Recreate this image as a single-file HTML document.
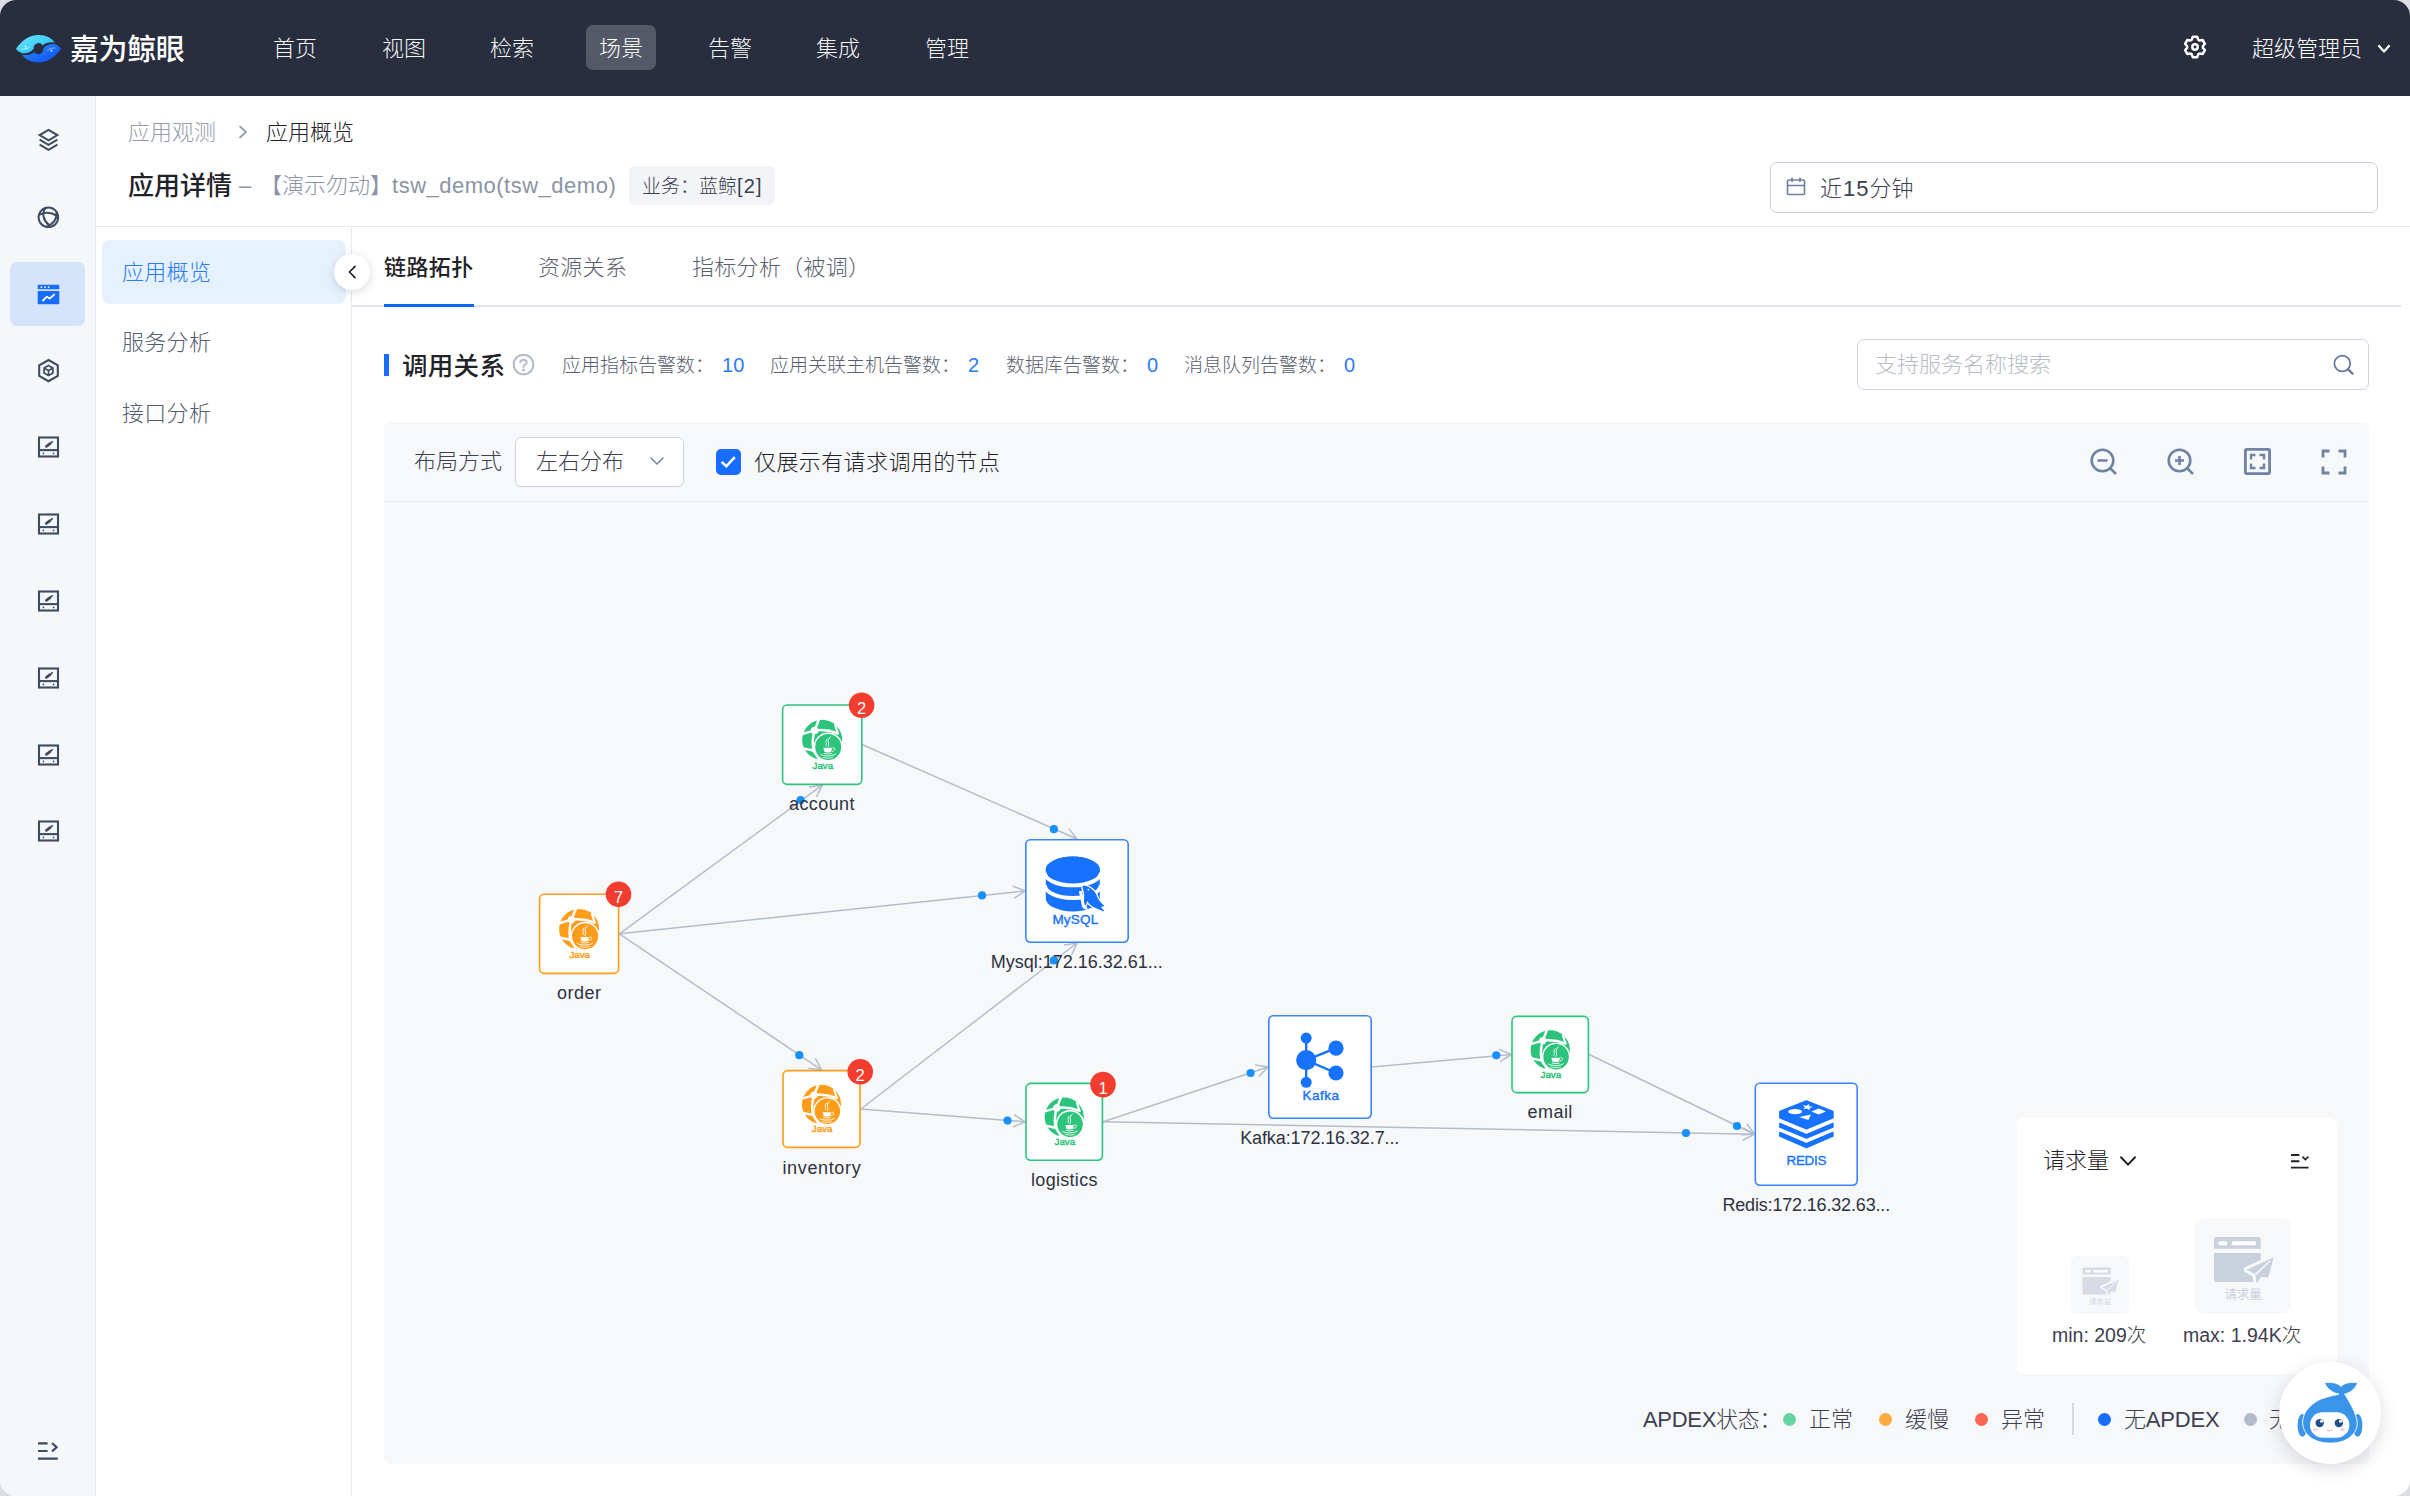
<!DOCTYPE html>
<html lang="zh-CN">
<head>
<meta charset="utf-8">
<title>应用概览</title>
<style>
*{box-sizing:border-box;margin:0;padding:0}
html,body{width:2410px;height:1496px;overflow:hidden;background:#dcdde2}
body{font-family:"Liberation Sans","Noto Sans CJK SC",sans-serif;color:#1f2329;font-size:22px;line-height:1;font-weight:300}
#app{position:relative;width:2410px;height:1496px;border-radius:16px;overflow:hidden;background:#fff}
.abs{position:absolute}
.t{position:absolute;white-space:nowrap;line-height:1}
.dot{top:990.5px;width:13px;height:13px;border-radius:50%}
/* top nav */
#nav{position:absolute;left:0;top:0;width:2410px;height:96px;background:#292e3e}
#nav .item{position:absolute;top:25px;height:45px;width:70px;border-radius:7px;color:#f3f4f6;font-size:22px;line-height:47px;text-align:center}
#nav .item.on{background:#545967;color:#fff}
/* left icon bar */
#side1{position:absolute;left:0;top:96px;width:96px;height:1400px;background:#f6f7f9;border-right:1px solid #e6e9ee}
#side1 .ic{position:absolute;left:34px;width:28px;height:28px}
#side1 .act{position:absolute;left:10px;top:166px;width:75px;height:64px;border-radius:7px;background:#d5e4fb}
/* header */
#hdr{position:absolute;left:96px;top:96px;width:2314px;height:131px;background:#fff;border-bottom:1px solid #e6e9ee}
/* second sidebar */
#side2{position:absolute;left:96px;top:227px;width:256px;height:1269px;background:#fff;border-right:1px solid #e6e9ee}
#side2 .mi{position:absolute;left:6px;width:244px;height:64px;border-radius:8px;font-size:22px;line-height:66px;padding-left:20px;color:#555c70;letter-spacing:0.3px}
#side2 .mi.on{background:#e5f2fe;color:#2b7bf5}
/* main */
#main{position:absolute;left:0;top:0;width:0;height:0}
</style>
</head>
<body>
<div id="app">

<!-- ================= TOP NAV ================= -->
<div id="nav">
  <div class="item" style="left:260px">首页</div>
  <div class="item" style="left:369px">视图</div>
  <div class="item" style="left:477px">检索</div>
  <div class="item on" style="left:586px">场景</div>
  <div class="item" style="left:695px">告警</div>
  <div class="item" style="left:803px">集成</div>
  <div class="item" style="left:912px">管理</div>
  
  <svg class="abs" style="left:15px;top:34px" width="48" height="30" viewBox="0 0 48 30">
    <defs>
      <linearGradient id="lgA" x1="0" y1="0" x2="1" y2="1"><stop offset="0" stop-color="#6fe9ff"/><stop offset="1" stop-color="#19b6f5"/></linearGradient>
      <linearGradient id="lgB" x1="0" y1="0" x2="1" y2="1"><stop offset="0" stop-color="#2e90ff"/><stop offset="1" stop-color="#0a4cf0"/></linearGradient>
    </defs>
    <path d="M1 15 C6 7 14 1 24 1 C31 1 36.5 4 40 8.6 C35 7.8 30.5 8.6 27.6 11.4 A4.8 4.8 0 0 0 18.8 14.6 C16.6 18.2 12 19.8 7 19.2 C4.5 18.2 2.5 16.8 1 15 Z" fill="url(#lgA)"/>
    <path d="M46 14.4 C41 22.4 33 28.4 23 28.4 C16 28.4 10.5 25.4 7 20.8 C12 21.6 16.5 20.8 19.4 18 A4.8 4.8 0 0 0 28.2 14.8 C30.4 11.2 35 9.6 40 10.2 C42.5 11.2 44.5 12.6 46 14.4 Z" fill="url(#lgB)"/>
    <path d="M5 15.4 C9 16.6 13 15.4 15.6 12.6 C12 14 8 14.6 5 15.4Z" fill="#c9f6ff" opacity=".7"/>
    <path d="M42 14 C38 12.8 34 14 31.4 16.8 C35 15.4 39 14.8 42 14Z" fill="#9cc4ff" opacity=".6"/>
    <circle cx="10.6" cy="12.6" r="0.9" fill="#fff"/><circle cx="36.4" cy="16.8" r="0.9" fill="#fff"/>
  </svg>
  <div class="t" style="left:70px;top:36px;font-size:29px;font-weight:500;color:#fff;letter-spacing:-0.4px">嘉为鲸眼</div>
  <svg class="abs" style="left:2183px;top:35.4px" width="24" height="24" viewBox="0 0 24 24" fill="none" stroke="#fff" stroke-width="2.5" stroke-linejoin="round">
    <path d="M8.66 4.84 L9.84 1.83 L14.16 1.83 L15.34 4.84 L16.53 5.53 L19.73 5.04 L21.89 8.79 L19.87 11.31 L19.87 12.69 L21.89 15.21 L19.73 18.96 L16.53 18.47 L15.34 19.16 L14.16 22.17 L9.84 22.17 L8.66 19.16 L7.47 18.47 L4.27 18.96 L2.11 15.21 L4.13 12.69 L4.13 11.31 L2.11 8.79 L4.27 5.04 L7.47 5.53 Z"/>
    <circle cx="12" cy="12" r="2.7"/>
  </svg>
  <div class="t" style="left:2252px;top:38px;font-size:22px;color:#fff">超级管理员</div>
  <svg class="abs" style="left:2377px;top:43px" width="14" height="12" viewBox="0 0 14 12" fill="none" stroke="#fff" stroke-width="2.2" stroke-linecap="round" stroke-linejoin="round"><path d="M2 3 L7 8.5 L12 3"/></svg>

</div>

<!-- ================= LEFT ICON BAR ================= -->
<div id="side1">
  <div class="act"></div>
  
  <svg class="abs" style="left:36px;top:31px" width="25" height="26" viewBox="0 0 25 26" fill="none" stroke="#3d4b63" stroke-width="2" stroke-linejoin="miter"><path d="M12.5 2.9 L21.4 8.1 L12.5 13.3 L3.6 8.1 Z"/><path d="M3.6 12.7 L12.5 17.9 L21.4 12.7"/><path d="M3.6 17.6 L12.5 22.8 L21.4 17.6"/></svg>
  <svg class="abs" style="left:36px;top:109px" width="25" height="25" viewBox="0 0 25 25" fill="none" stroke="#3d4b63" stroke-width="2"><circle cx="12.4" cy="12.3" r="9.8"/><path d="M9 3.6 C5.6 9 7.6 16 13.4 20.4 M3 10 C8 6.6 15 7 20.4 10.6 M20.4 7.2 C21.4 13 18 19 11 21.4"/></svg>
  <svg class="abs" style="left:37px;top:188px" width="23" height="21" viewBox="0 0 23 21"><path d="M1.5 0.8 H21.5 Q22.3 0.8 22.3 1.6 V5.2 H0.7 V1.6 Q0.7 0.8 1.5 0.8Z M0.7 7 H22.3 V19.4 Q22.3 20.2 21.5 20.2 H1.5 Q0.7 20.2 0.7 19.4Z" fill="#186cff"/><circle cx="4.4" cy="3.1" r="0.9" fill="#fff"/><circle cx="8" cy="3.1" r="0.9" fill="#fff"/><circle cx="11.6" cy="3.1" r="0.9" fill="#fff"/><path d="M6 16.5 L10 12.6 L12.6 14.6 L17.2 10.6" fill="none" stroke="#fff" stroke-width="1.8" stroke-linecap="round" stroke-linejoin="round"/></svg>
  <svg class="abs" style="left:36px;top:261px" width="25" height="27" viewBox="0 0 25 27" fill="none" stroke="#3d4b63" stroke-width="2.1" stroke-linejoin="miter"><path d="M12.5 3 L21.8 8.3 V18.9 L12.5 24.2 L3.2 18.9 V8.3 Z"/><path d="M12.5 8.6 L16.9 11.1 V16.1 L12.5 18.6 L8.1 16.1 V11.1 Z" stroke-width="1.7"/><path d="M8.3 11.2 L12.5 13.6 L16.7 11.2 M12.5 13.6 V18.4" stroke-width="1.7"/></svg>
  <svg class="abs" style="left:37px;top:340.3px" width="23" height="22" viewBox="0 0 23 22" fill="none" stroke="#3d4b63" stroke-width="2.1"><rect x="2" y="1.5" width="19" height="19"/><path d="M2 14.1 H21"/><path d="M9.4 10.4 L13 7.6" stroke-width="2.7" stroke-linecap="round"/><path d="M13 7.6 l2.4 -1.9" stroke-width="1.5" stroke-linecap="round"/><circle cx="6.4" cy="17.4" r="0.85" fill="#3d4b63" stroke="none"/><circle cx="16.6" cy="17.4" r="0.85" fill="#3d4b63" stroke="none"/></svg>
  <svg class="abs" style="left:37px;top:417.2px" width="23" height="22" viewBox="0 0 23 22" fill="none" stroke="#3d4b63" stroke-width="2.1"><rect x="2" y="1.5" width="19" height="19"/><path d="M2 14.1 H21"/><path d="M9.4 10.4 L13 7.6" stroke-width="2.7" stroke-linecap="round"/><path d="M13 7.6 l2.4 -1.9" stroke-width="1.5" stroke-linecap="round"/><circle cx="6.4" cy="17.4" r="0.85" fill="#3d4b63" stroke="none"/><circle cx="16.6" cy="17.4" r="0.85" fill="#3d4b63" stroke="none"/></svg>
  <svg class="abs" style="left:37px;top:494.0px" width="23" height="22" viewBox="0 0 23 22" fill="none" stroke="#3d4b63" stroke-width="2.1"><rect x="2" y="1.5" width="19" height="19"/><path d="M2 14.1 H21"/><path d="M9.4 10.4 L13 7.6" stroke-width="2.7" stroke-linecap="round"/><path d="M13 7.6 l2.4 -1.9" stroke-width="1.5" stroke-linecap="round"/><circle cx="6.4" cy="17.4" r="0.85" fill="#3d4b63" stroke="none"/><circle cx="16.6" cy="17.4" r="0.85" fill="#3d4b63" stroke="none"/></svg>
  <svg class="abs" style="left:37px;top:571.0px" width="23" height="22" viewBox="0 0 23 22" fill="none" stroke="#3d4b63" stroke-width="2.1"><rect x="2" y="1.5" width="19" height="19"/><path d="M2 14.1 H21"/><path d="M9.4 10.4 L13 7.6" stroke-width="2.7" stroke-linecap="round"/><path d="M13 7.6 l2.4 -1.9" stroke-width="1.5" stroke-linecap="round"/><circle cx="6.4" cy="17.4" r="0.85" fill="#3d4b63" stroke="none"/><circle cx="16.6" cy="17.4" r="0.85" fill="#3d4b63" stroke="none"/></svg>
  <svg class="abs" style="left:37px;top:647.6px" width="23" height="22" viewBox="0 0 23 22" fill="none" stroke="#3d4b63" stroke-width="2.1"><rect x="2" y="1.5" width="19" height="19"/><path d="M2 14.1 H21"/><path d="M9.4 10.4 L13 7.6" stroke-width="2.7" stroke-linecap="round"/><path d="M13 7.6 l2.4 -1.9" stroke-width="1.5" stroke-linecap="round"/><circle cx="6.4" cy="17.4" r="0.85" fill="#3d4b63" stroke="none"/><circle cx="16.6" cy="17.4" r="0.85" fill="#3d4b63" stroke="none"/></svg>
  <svg class="abs" style="left:37px;top:724.3px" width="23" height="22" viewBox="0 0 23 22" fill="none" stroke="#3d4b63" stroke-width="2.1"><rect x="2" y="1.5" width="19" height="19"/><path d="M2 14.1 H21"/><path d="M9.4 10.4 L13 7.6" stroke-width="2.7" stroke-linecap="round"/><path d="M13 7.6 l2.4 -1.9" stroke-width="1.5" stroke-linecap="round"/><circle cx="6.4" cy="17.4" r="0.85" fill="#3d4b63" stroke="none"/><circle cx="16.6" cy="17.4" r="0.85" fill="#3d4b63" stroke="none"/></svg>
  <svg class="abs" style="left:37px;top:1345px" width="23" height="20" viewBox="0 0 23 20" fill="none" stroke="#3d4b63" stroke-width="2.2"><path d="M1 2.4 H10.6 M1 10 H10.6 M1 17.6 H20.8"/><path d="M15 2 L19.6 6.2 L15 10.4" stroke-linejoin="miter"/></svg>

</div>

<!-- ================= HEADER ================= -->
<div id="hdr">
  
  <div class="t" style="left:32px;top:26px;font-size:22px;color:#959cae">应用观测</div>
  <svg class="abs" style="left:141px;top:28px" width="12" height="16" viewBox="0 0 12 16" fill="none" stroke="#959cae" stroke-width="1.8" stroke-linecap="round" stroke-linejoin="round"><path d="M3 2.5 L9 8 L3 13.5"/></svg>
  <div class="t" style="left:170px;top:26px;font-size:22px;color:#1f2329">应用概览</div>
  <div class="t" style="left:32px;top:77px;font-size:26px;font-weight:500;color:#1f2329">应用详情</div>
  <div class="t" style="left:143px;top:79px;font-size:22px;color:#8b93a6">–</div>
  <div class="t" style="left:164px;top:79px;font-size:22px;color:#8b93a6">【演示勿动】<span style="letter-spacing:0.5px">tsw_demo(tsw_demo)</span></div>
  <div class="abs" style="left:533px;top:70px;width:146px;height:39px;border-radius:5px;background:#f2f4f8"></div>
  <div class="t" style="left:546px;top:80px;font-size:19px;color:#3c4050">业务：蓝鲸<span style="letter-spacing:1.2px;font-size:20px">[2]</span></div>
  <div class="abs" style="left:1674px;top:66px;width:608px;height:51px;border:1px solid #c6ccd9;border-radius:7px;background:#fff"></div>
  <svg class="abs" style="left:1690px;top:81px" width="20" height="19" viewBox="0 0 20 19" fill="none" stroke="#6f7f9c" stroke-width="1.6"><rect x="1.5" y="3" width="17" height="14.5" rx="1"/><path d="M1.5 8.5 H18.5 M6 0.5 V5 M14 0.5 V5"/></svg>
  <div class="t" style="left:1724px;top:82px;font-size:22px;color:#3c4050">近<span style="letter-spacing:1px;margin-left:1px">15</span>分钟</div>

</div>

<!-- ================= SECOND SIDEBAR ================= -->
<div id="side2">
  <div class="mi on" style="top:13px">应用概览</div>
  <div class="mi" style="top:83px">服务分析</div>
  <div class="mi" style="top:154px">接口分析</div>
</div>

<!-- ================= MAIN ================= -->
<div id="main">
  
  <!-- collapse button -->
  <div class="abs" style="left:334px;top:254px;width:36px;height:36px;border-radius:50%;background:#fff;box-shadow:0 2px 10px rgba(40,50,80,.18)"></div>
  <svg class="abs" style="left:346px;top:263px" width="12" height="18" viewBox="0 0 12 18" fill="none" stroke="#1f2329" stroke-width="1.7" stroke-linecap="round" stroke-linejoin="round"><path d="M9 3.4 L3.4 9 L9 14.6"/></svg>
  <!-- tabs -->
  <div class="abs" style="left:352px;top:305px;width:2049px;height:2px;background:#e0e3e9"></div>
  <div class="t" style="left:384px;top:257px;font-size:22px;font-weight:500;color:#1f2329;letter-spacing:0.4px">链路拓扑</div>
  <div class="abs" style="left:384px;top:303.8px;width:90px;height:3.2px;background:#0a66ff"></div>
  <div class="t" style="left:538px;top:257px;font-size:22px;color:#5b6071;letter-spacing:0.3px">资源关系</div>
  <div class="t" style="left:692px;top:257px;font-size:22px;color:#5b6071;letter-spacing:0.3px">指标分析（被调）</div>
  <!-- section title -->
  <div class="abs" style="left:384px;top:354px;width:5px;height:22px;background:#186cff"></div>
  <div class="t" style="left:402px;top:353.5px;font-size:25.5px;font-weight:500;color:#1f2329;letter-spacing:0.3px">调用关系</div>
  <svg class="abs" style="left:512px;top:353px" width="23" height="23" viewBox="0 0 23 23" fill="none" stroke="#b4bccb" stroke-width="2"><circle cx="11.5" cy="11.5" r="9.8"/><path d="M8.3 9.2 C8.3 6 14.7 6 14.7 9.4 C14.7 11.6 11.5 11.6 11.5 14" stroke-linecap="round"/><circle cx="11.5" cy="17" r="0.6" fill="#b4bccb"/></svg>
  <div class="t" style="left:562px;top:355px;font-size:19px;color:#5b6071">应用指标告警数：<span style="color:#2b7bf5;margin-left:8px;font-size:20px">10</span></div>
  <div class="t" style="left:770px;top:355px;font-size:19px;color:#5b6071">应用关联主机告警数：<span style="color:#2b7bf5;margin-left:8px;font-size:20px">2</span></div>
  <div class="t" style="left:1006px;top:355px;font-size:19px;color:#5b6071">数据库告警数：<span style="color:#2b7bf5;margin-left:8px;font-size:20px">0</span></div>
  <div class="t" style="left:1184px;top:355px;font-size:19px;color:#5b6071">消息队列告警数：<span style="color:#2b7bf5;margin-left:8px;font-size:20px">0</span></div>
  <!-- search -->
  <div class="abs" style="left:1857px;top:339px;width:512px;height:51px;border:1px solid #cdd4e2;border-radius:7px;background:#fff"></div>
  <div class="t" style="left:1875px;top:354px;font-size:22px;color:#b7bcc8">支持服务名称搜索</div>
  <svg class="abs" style="left:2331px;top:352px" width="25" height="25" viewBox="0 0 25 25" fill="none" stroke="#62779b" stroke-width="1.7" stroke-linecap="round"><circle cx="11.3" cy="11.5" r="7.9"/><path d="M17.2 17.4 L21.6 21.8" stroke-width="2.2"/></svg>
  <!-- graph panel -->
  <div class="abs" id="gp" style="left:384px;top:422px;width:1985px;height:1042px;border-radius:6px;background:#f7f8fa;overflow:hidden">
    <div class="abs" style="left:0;top:79px;width:1985px;height:1px;background:#e6e9ee"></div>
    <!--G0--><div class="abs" style="left:-384px;top:-422px;width:2410px;height:1496px"><svg class="abs" style="left:0;top:0" width="2410" height="1496" viewBox="0 0 2410 1496"><g fill="none" stroke="#b3bdcb" stroke-width="1.5" stroke-linecap="round" stroke-linejoin="round"><path d="M619.4 933.8 L822.2 785.2"/><path d="M809.7 787.0 L822.2 785.2 L816.7 796.5"/><path d="M619.4 933.8 L1025.0 891.0"/><path d="M1013.3 886.3 L1025.0 891.0 L1014.6 898.1"/><path d="M862.6 744.7 L1077.0 839.0"/><path d="M1069.2 829.1 L1077.0 839.0 L1064.4 839.9"/><path d="M619.4 933.8 L821.5 1069.8"/><path d="M815.6 1058.7 L821.5 1069.8 L809.0 1068.5"/><path d="M860.8 1109.0 L1077.0 943.0"/><path d="M1064.6 945.1 L1077.0 943.0 L1071.8 954.5"/><path d="M860.8 1109.0 L1025.2 1121.8"/><path d="M1014.6 1115.0 L1025.2 1121.8 L1013.6 1126.8"/><path d="M1103.2 1121.8 L1268.0 1067.0"/><path d="M1255.6 1064.9 L1268.0 1067.0 L1259.3 1076.1"/><path d="M1103.2 1121.8 L1754.5 1134.2"/><path d="M1743.5 1128.1 L1754.5 1134.2 L1743.3 1140.0"/><path d="M1372.0 1067.0 L1511.2 1054.5"/><path d="M1499.6 1049.6 L1511.2 1054.5 L1500.6 1061.4"/><path d="M1589.2 1054.5 L1754.5 1134.2"/><path d="M1747.1 1124.1 L1754.5 1134.2 L1741.9 1134.7"/></g><g fill="#1890ff"><circle cx="800.6" cy="800.1" r="4.1"/><circle cx="982" cy="895.4" r="4.1"/><circle cx="1053.9" cy="829.2" r="4.1"/><circle cx="799.3" cy="1055.2" r="4.1"/><circle cx="1053.9" cy="960.4" r="4.1"/><circle cx="1007.5" cy="1120.6" r="4.1"/><circle cx="1250.6" cy="1073" r="4.1"/><circle cx="1686" cy="1133" r="4.1"/><circle cx="1496.3" cy="1055.3" r="4.1"/><circle cx="1737" cy="1126" r="4.1"/></g><rect x="539.6" y="894.2" width="79.0" height="79.2" rx="4.6" fill="#fff" stroke="#ff9c1a" stroke-width="1.6"/><rect x="782.6" y="705.0" width="79.2" height="79.4" rx="4.6" fill="#fff" stroke="#2bc47a" stroke-width="1.6"/><rect x="783.0" y="1070.6" width="77.0" height="76.8" rx="4.6" fill="#fff" stroke="#ff9c1a" stroke-width="1.6"/><rect x="1026.0" y="1083.4" width="76.4" height="76.8" rx="4.6" fill="#fff" stroke="#2bc47a" stroke-width="1.6"/><rect x="1512.0" y="1016.4" width="76.4" height="76.2" rx="4.6" fill="#fff" stroke="#2bc47a" stroke-width="1.6"/><rect x="1025.8" y="839.8" width="102.4" height="102.4" rx="4.6" fill="#fff" stroke="#3a84ff" stroke-width="1.6"/><rect x="1268.8" y="1015.8" width="102.4" height="102.4" rx="4.6" fill="#fff" stroke="#3a84ff" stroke-width="1.6"/><rect x="1755.3" y="1083.3" width="101.9" height="101.9" rx="4.6" fill="#fff" stroke="#3a84ff" stroke-width="1.6"/><g transform="translate(579.1,929.0) scale(1.0)">
<circle cx="0" cy="0" r="20" fill="#ff9c1a"/>
<g fill="none" stroke="#fff" stroke-width="2.5" stroke-linecap="round">
<path d="M-7.6 -9.4 L-3.4 -20"/>
<path d="M-7.6 -9.4 L-20 -5.8"/>
<path d="M-7.6 -9.4 C-9.6 -3 -10 4 -8.8 10.8"/>
<path d="M-8.8 10.8 L-19 8.8"/>
<path d="M-8.8 10.8 L-2.6 20"/>
<path d="M-7.6 -9.4 C0 -10.4 8 -9.4 15.6 -6.4"/>
<path d="M15.6 -6.4 L13 -14.6" stroke-width="2.2"/>
</g>
<circle cx="-7.6" cy="-9.4" r="3.7" fill="#fff"/>
<circle cx="6" cy="7.2" r="14.5" fill="#fff"/>
<circle cx="6" cy="7.2" r="13" fill="#ff9c1a"/>
<g fill="none" stroke="#fff" stroke-linecap="round" stroke-width="1">
<path d="M8.4 -3 C3 1 8.6 3 5.8 6.6"/>
<path d="M5 -1 C2.2 1.6 5.4 3 3.8 5.6" stroke-width="0.9"/>
<path d="M10.8 8 C13.8 7.8 13.2 11 10.2 11.4" stroke-width="0.9"/>
<path d="M-1.6 14.6 C0.4 16.8 11 16.8 13.4 14.2" stroke-width="1"/>
<path d="M1 17.6 C3.6 18.6 8.6 18.6 10.4 17.6" stroke-width="0.8"/>
</g>
<path d="M1.2 8 H10 L9 12 Q5.6 13.2 2.2 12 Z" fill="#fff"/>
<path d="M2 13.6 Q5.6 14.6 9.2 13.6" fill="none" stroke="#fff" stroke-width="0.9" stroke-linecap="round"/>
</g><g transform="translate(822.2,739.8) scale(1.0)">
<circle cx="0" cy="0" r="20" fill="#2bc47a"/>
<g fill="none" stroke="#fff" stroke-width="2.5" stroke-linecap="round">
<path d="M-7.6 -9.4 L-3.4 -20"/>
<path d="M-7.6 -9.4 L-20 -5.8"/>
<path d="M-7.6 -9.4 C-9.6 -3 -10 4 -8.8 10.8"/>
<path d="M-8.8 10.8 L-19 8.8"/>
<path d="M-8.8 10.8 L-2.6 20"/>
<path d="M-7.6 -9.4 C0 -10.4 8 -9.4 15.6 -6.4"/>
<path d="M15.6 -6.4 L13 -14.6" stroke-width="2.2"/>
</g>
<circle cx="-7.6" cy="-9.4" r="3.7" fill="#fff"/>
<circle cx="6" cy="7.2" r="14.5" fill="#fff"/>
<circle cx="6" cy="7.2" r="13" fill="#2bc47a"/>
<g fill="none" stroke="#fff" stroke-linecap="round" stroke-width="1">
<path d="M8.4 -3 C3 1 8.6 3 5.8 6.6"/>
<path d="M5 -1 C2.2 1.6 5.4 3 3.8 5.6" stroke-width="0.9"/>
<path d="M10.8 8 C13.8 7.8 13.2 11 10.2 11.4" stroke-width="0.9"/>
<path d="M-1.6 14.6 C0.4 16.8 11 16.8 13.4 14.2" stroke-width="1"/>
<path d="M1 17.6 C3.6 18.6 8.6 18.6 10.4 17.6" stroke-width="0.8"/>
</g>
<path d="M1.2 8 H10 L9 12 Q5.6 13.2 2.2 12 Z" fill="#fff"/>
<path d="M2 13.6 Q5.6 14.6 9.2 13.6" fill="none" stroke="#fff" stroke-width="0.9" stroke-linecap="round"/>
</g><g transform="translate(821.5,1104.3) scale(0.98)">
<circle cx="0" cy="0" r="20" fill="#ff9c1a"/>
<g fill="none" stroke="#fff" stroke-width="2.5" stroke-linecap="round">
<path d="M-7.6 -9.4 L-3.4 -20"/>
<path d="M-7.6 -9.4 L-20 -5.8"/>
<path d="M-7.6 -9.4 C-9.6 -3 -10 4 -8.8 10.8"/>
<path d="M-8.8 10.8 L-19 8.8"/>
<path d="M-8.8 10.8 L-2.6 20"/>
<path d="M-7.6 -9.4 C0 -10.4 8 -9.4 15.6 -6.4"/>
<path d="M15.6 -6.4 L13 -14.6" stroke-width="2.2"/>
</g>
<circle cx="-7.6" cy="-9.4" r="3.7" fill="#fff"/>
<circle cx="6" cy="7.2" r="14.5" fill="#fff"/>
<circle cx="6" cy="7.2" r="13" fill="#ff9c1a"/>
<g fill="none" stroke="#fff" stroke-linecap="round" stroke-width="1">
<path d="M8.4 -3 C3 1 8.6 3 5.8 6.6"/>
<path d="M5 -1 C2.2 1.6 5.4 3 3.8 5.6" stroke-width="0.9"/>
<path d="M10.8 8 C13.8 7.8 13.2 11 10.2 11.4" stroke-width="0.9"/>
<path d="M-1.6 14.6 C0.4 16.8 11 16.8 13.4 14.2" stroke-width="1"/>
<path d="M1 17.6 C3.6 18.6 8.6 18.6 10.4 17.6" stroke-width="0.8"/>
</g>
<path d="M1.2 8 H10 L9 12 Q5.6 13.2 2.2 12 Z" fill="#fff"/>
<path d="M2 13.6 Q5.6 14.6 9.2 13.6" fill="none" stroke="#fff" stroke-width="0.9" stroke-linecap="round"/>
</g><g transform="translate(1064.2,1117.1) scale(0.98)">
<circle cx="0" cy="0" r="20" fill="#2bc47a"/>
<g fill="none" stroke="#fff" stroke-width="2.5" stroke-linecap="round">
<path d="M-7.6 -9.4 L-3.4 -20"/>
<path d="M-7.6 -9.4 L-20 -5.8"/>
<path d="M-7.6 -9.4 C-9.6 -3 -10 4 -8.8 10.8"/>
<path d="M-8.8 10.8 L-19 8.8"/>
<path d="M-8.8 10.8 L-2.6 20"/>
<path d="M-7.6 -9.4 C0 -10.4 8 -9.4 15.6 -6.4"/>
<path d="M15.6 -6.4 L13 -14.6" stroke-width="2.2"/>
</g>
<circle cx="-7.6" cy="-9.4" r="3.7" fill="#fff"/>
<circle cx="6" cy="7.2" r="14.5" fill="#fff"/>
<circle cx="6" cy="7.2" r="13" fill="#2bc47a"/>
<g fill="none" stroke="#fff" stroke-linecap="round" stroke-width="1">
<path d="M8.4 -3 C3 1 8.6 3 5.8 6.6"/>
<path d="M5 -1 C2.2 1.6 5.4 3 3.8 5.6" stroke-width="0.9"/>
<path d="M10.8 8 C13.8 7.8 13.2 11 10.2 11.4" stroke-width="0.9"/>
<path d="M-1.6 14.6 C0.4 16.8 11 16.8 13.4 14.2" stroke-width="1"/>
<path d="M1 17.6 C3.6 18.6 8.6 18.6 10.4 17.6" stroke-width="0.8"/>
</g>
<path d="M1.2 8 H10 L9 12 Q5.6 13.2 2.2 12 Z" fill="#fff"/>
<path d="M2 13.6 Q5.6 14.6 9.2 13.6" fill="none" stroke="#fff" stroke-width="0.9" stroke-linecap="round"/>
</g><g transform="translate(1550.2,1049.8) scale(0.98)">
<circle cx="0" cy="0" r="20" fill="#2bc47a"/>
<g fill="none" stroke="#fff" stroke-width="2.5" stroke-linecap="round">
<path d="M-7.6 -9.4 L-3.4 -20"/>
<path d="M-7.6 -9.4 L-20 -5.8"/>
<path d="M-7.6 -9.4 C-9.6 -3 -10 4 -8.8 10.8"/>
<path d="M-8.8 10.8 L-19 8.8"/>
<path d="M-8.8 10.8 L-2.6 20"/>
<path d="M-7.6 -9.4 C0 -10.4 8 -9.4 15.6 -6.4"/>
<path d="M15.6 -6.4 L13 -14.6" stroke-width="2.2"/>
</g>
<circle cx="-7.6" cy="-9.4" r="3.7" fill="#fff"/>
<circle cx="6" cy="7.2" r="14.5" fill="#fff"/>
<circle cx="6" cy="7.2" r="13" fill="#2bc47a"/>
<g fill="none" stroke="#fff" stroke-linecap="round" stroke-width="1">
<path d="M8.4 -3 C3 1 8.6 3 5.8 6.6"/>
<path d="M5 -1 C2.2 1.6 5.4 3 3.8 5.6" stroke-width="0.9"/>
<path d="M10.8 8 C13.8 7.8 13.2 11 10.2 11.4" stroke-width="0.9"/>
<path d="M-1.6 14.6 C0.4 16.8 11 16.8 13.4 14.2" stroke-width="1"/>
<path d="M1 17.6 C3.6 18.6 8.6 18.6 10.4 17.6" stroke-width="0.8"/>
</g>
<path d="M1.2 8 H10 L9 12 Q5.6 13.2 2.2 12 Z" fill="#fff"/>
<path d="M2 13.6 Q5.6 14.6 9.2 13.6" fill="none" stroke="#fff" stroke-width="0.9" stroke-linecap="round"/>
</g><g fill="#1672ff"><ellipse cx="1072.8" cy="869.5" rx="27" ry="12.9"/><path d="M1045.8 869.5 V898.5 A27 12.9 0 0 0 1099.8 898.5 V869.5 Z"/></g><g fill="none" stroke="#fff" stroke-width="3.9"><path d="M1044.8 872.5 A28 12.9 0 0 0 1100.8 872.5"/><path d="M1044.8 885.1 A28 12.9 0 0 0 1100.8 885.1"/></g><ellipse cx="1072.8" cy="869.5" rx="27" ry="12.9" fill="#1672ff"/><path d="M1082.4 886.6 C1083.6 885.4 1085.4 885.6 1087.0 886.6 C1091.4 888.0 1095.0 891.6 1097.0 896.6 C1098.0 899.6 1100.0 902.4 1104.2 906.0 L1100.6 906.8 L1104.4 911.4 C1099.4 909.6 1093.6 907.6 1089.6 904.0 C1088.4 902.4 1087.6 901.4 1087.0 900.4 C1086.8 902.4 1086.2 904.0 1085.4 905.4 C1084.2 903.4 1083.8 900.4 1084.4 897.4 C1084.6 894.0 1083.6 890.0 1082.4 886.6 Z" fill="#1672ff" stroke="#fff" stroke-width="3" stroke-linejoin="round" paint-order="stroke"/><path d="M1080.4 891.0 L1083.4 905.8 Q1084.6 908.6 1087.0 907.4" fill="none" stroke="#fff" stroke-width="3"/><path d="M1082.4 886.6 C1083.6 885.4 1085.4 885.6 1087.0 886.6 C1091.4 888.0 1095.0 891.6 1097.0 896.6 C1098.0 899.6 1100.0 902.4 1104.2 906.0 L1100.6 906.8 L1104.4 911.4 C1099.4 909.6 1093.6 907.6 1089.6 904.0 C1088.4 902.4 1087.6 901.4 1087.0 900.4 C1086.8 902.4 1086.2 904.0 1085.4 905.4 C1084.2 903.4 1083.8 900.4 1084.4 897.4 C1084.6 894.0 1083.6 890.0 1082.4 886.6 Z" fill="#1672ff"/><circle cx="1088.4" cy="889.6" r="0.9" fill="#fff"/><g stroke="#1672ff" stroke-width="2.4" fill="#1672ff"><path d="M1306.2 1060.1 L1306.2 1038.1"/><path d="M1306.2 1060.1 L1306.2 1082.3"/><path d="M1306.2 1060.1 L1336 1048.2"/><path d="M1306.2 1060.1 L1336 1073"/></g><g fill="#1672ff"><circle cx="1306.2" cy="1060.1" r="10.1"/><circle cx="1306.2" cy="1038.1" r="5.5"/><circle cx="1306.2" cy="1082.3" r="5.5"/><circle cx="1336" cy="1048.2" r="7.6"/><circle cx="1336" cy="1073" r="7.6"/></g><g fill="#1672ff" stroke="#1672ff" stroke-width="1.6" stroke-linejoin="round"><path d="M1779.9 1111.5 L1806.4 1101.1 L1832.9 1111.5 L1832.9 1117.7 L1806.4 1128.7 L1779.9 1117.7 Z"/><path d="M1779.9 1123.5 L1806.4 1134.7 L1832.9 1123.5 L1832.9 1126.9 L1806.4 1138.1 L1779.9 1126.9 Z"/><path d="M1779.9 1132.5 L1806.4 1143.7 L1832.9 1132.5 L1832.9 1135.9 L1806.4 1147.5 L1779.9 1135.9 Z"/></g><g fill="#fff"><ellipse cx="1795.1" cy="1111.7" rx="6.9" ry="2.6"/><path d="M1811.4 1111.5 L1818.7 1108.5 L1826.0 1111.5 L1818.7 1114.5 Z"/><path d="M1799.1 1116.9 L1811.0 1114.5 L1808.3 1120.1 Z"/><polygon points="1808.9,1103.9 1809.4,1106.2 1813.2,1106.9 1809.5,1107.9 1809.6,1110.2 1806.9,1108.5 1803.1,1109.2 1805.1,1107.2 1802.7,1105.3 1806.6,1105.8"/></g><circle cx="618.5" cy="894.2" r="12.8" fill="#f23c2e"/><circle cx="861.6" cy="705.3" r="12.8" fill="#f23c2e"/><circle cx="860.2" cy="1071.8" r="12.8" fill="#f23c2e"/><circle cx="1103" cy="1084.6" r="12.8" fill="#f23c2e"/></svg><style>.lb{position:absolute;width:300px;text-align:center;white-space:nowrap;line-height:1}</style><div class="lb" style="left:468.5px;top:889.2px;font-size:16.5px;color:#fff;">7</div><div class="lb" style="left:711.6px;top:700.2px;font-size:16.5px;color:#fff;">2</div><div class="lb" style="left:710.2px;top:1066.8px;font-size:16.5px;color:#fff;">2</div><div class="lb" style="left:953.0px;top:1079.5px;font-size:16.5px;color:#fff;">1</div><div class="lb" style="left:429.7px;top:949.9px;font-size:9.8px;color:#ff9c1a;-webkit-text-stroke:0.45px #ff9c1a;letter-spacing:-0.05px">Java</div><div class="lb" style="left:672.8px;top:760.8px;font-size:9.8px;color:#2bc47a;-webkit-text-stroke:0.45px #2bc47a;letter-spacing:-0.05px">Java</div><div class="lb" style="left:672.1px;top:1124.4px;font-size:9.8px;color:#ff9c1a;-webkit-text-stroke:0.45px #ff9c1a;letter-spacing:-0.05px">Java</div><div class="lb" style="left:914.8px;top:1137.2px;font-size:9.8px;color:#2bc47a;-webkit-text-stroke:0.45px #2bc47a;letter-spacing:-0.05px">Java</div><div class="lb" style="left:1400.8px;top:1069.8px;font-size:9.8px;color:#2bc47a;-webkit-text-stroke:0.45px #2bc47a;letter-spacing:-0.05px">Java</div><div class="lb" style="left:925.4px;top:912.6px;font-size:13.5px;color:#1672ff;-webkit-text-stroke:0.4px #1672ff;letter-spacing:0.2px">MySQL</div><div class="lb" style="left:1171.0px;top:1088.7px;font-size:13.5px;color:#1672ff;-webkit-text-stroke:0.4px #1672ff;letter-spacing:0.5px">Kafka</div><div class="lb" style="left:1656.4px;top:1153.7px;font-size:13.4px;color:#1672ff;-webkit-text-stroke:0.35px #1672ff;letter-spacing:-0.2px">REDIS</div><div class="lb" style="left:429.3px;top:983.9px;font-size:18px;color:#2e3240;letter-spacing:0.5px">order</div><div class="lb" style="left:672.0px;top:795.1px;font-size:18px;color:#2e3240;letter-spacing:0.4px">account</div><div class="lb" style="left:671.9px;top:1158.8px;font-size:18px;color:#2e3240;letter-spacing:0.65px">inventory</div><div class="lb" style="left:914.4px;top:1171.3px;font-size:18px;color:#2e3240;letter-spacing:0.3px">logistics</div><div class="lb" style="left:1400.2px;top:1102.9px;font-size:18px;color:#2e3240;letter-spacing:0.45px">email</div><div class="lb" style="left:926.8px;top:952.5px;font-size:18px;color:#2e3240;letter-spacing:0px">Mysql:172.16.32.61...</div><div class="lb" style="left:1169.7px;top:1128.9px;font-size:18px;color:#2e3240;letter-spacing:-0.1px">Kafka:172.16.32.7...</div><div class="lb" style="left:1656.2px;top:1195.5px;font-size:18px;color:#2e3240;letter-spacing:-0.17px">Redis:172.16.32.63...</div></div><!--G1-->
<!--L0-->
    <!-- legend card -->
    <div class="abs" style="left:1633px;top:696px;width:320px;height:256px;border-radius:7px;background:#fff"></div>
    <div class="t" style="left:1659px;top:728px;font-size:22px;color:#1f2329">请求量</div>
    <svg class="abs" style="left:1734px;top:732px" width="20" height="14" viewBox="0 0 20 14" fill="none" stroke="#1f2329" stroke-width="2" stroke-linecap="round" stroke-linejoin="round"><path d="M3 3.2 L10 10.6 L17 3.2"/></svg>
    <svg class="abs" style="left:1906px;top:731px" width="20" height="17" viewBox="0 0 20 17" fill="none" stroke="#1f2329" stroke-width="1.9"><path d="M1 2 H9.4 M1 8.2 H9.4 M1 14.6 H18.6"/><path d="M12.4 3.6 L15.4 6.6 L18.4 3.6" stroke-linejoin="miter" stroke-width="1.7"/></svg>
    <div class="abs" style="left:1687px;top:834px;width:58px;height:58px;border-radius:6px;background:#f7f8fa"></div>
    <div class="abs" style="left:1811px;top:796px;width:96px;height:96px;border-radius:9px;background:#f7f8fa"></div>
    <svg class="abs" style="left:1633px;top:696px" width="320" height="256" viewBox="0 0 320 256">
<g transform="translate(54,138) scale(0.604)">
<path d="M21.4 18.9 H63.2 Q65.7 18.9 65.7 21.4 V30.8 H18.9 V21.4 Q18.9 18.9 21.4 18.9Z" fill="#d6dbe5"/>
<path d="M18.9 34.9 H65.7 V61.4 Q65.7 63.9 63.2 63.9 H21.4 Q18.9 63.9 18.9 61.4Z" fill="#d6dbe5"/>
<rect x="23.3" y="23.2" width="9" height="4.1" rx="2" fill="#fff"/><rect x="36.7" y="23.2" width="24.4" height="4.1" rx="2" fill="#fff"/>
<path d="M78.7 39.2 L51.8 51.7 L60.4 56.6 L61.6 65.6 L66.2 58.9 L73.2 59.4 Z" fill="#d6dbe5" stroke="#f7f8fa" stroke-width="6" stroke-linejoin="round"/>
<path d="M78.7 39.2 L51.8 51.7 L60.4 56.6 L61.6 65.6 L66.2 58.9 L73.2 59.4 Z" fill="#d6dbe5"/>
<path d="M60.4 56.6 L75 43" stroke="#f7f8fa" stroke-width="1.6" fill="none"/>
</g><g transform="translate(178,100) scale(1)">
<path d="M21.4 18.9 H63.2 Q65.7 18.9 65.7 21.4 V30.8 H18.9 V21.4 Q18.9 18.9 21.4 18.9Z" fill="#c9d1dd"/>
<path d="M18.9 34.9 H65.7 V61.4 Q65.7 63.9 63.2 63.9 H21.4 Q18.9 63.9 18.9 61.4Z" fill="#c9d1dd"/>
<rect x="23.3" y="23.2" width="9" height="4.1" rx="2" fill="#fff"/><rect x="36.7" y="23.2" width="24.4" height="4.1" rx="2" fill="#fff"/>
<path d="M78.7 39.2 L51.8 51.7 L60.4 56.6 L61.6 65.6 L66.2 58.9 L73.2 59.4 Z" fill="#c9d1dd" stroke="#f7f8fa" stroke-width="6" stroke-linejoin="round"/>
<path d="M78.7 39.2 L51.8 51.7 L60.4 56.6 L61.6 65.6 L66.2 58.9 L73.2 59.4 Z" fill="#c9d1dd"/>
<path d="M60.4 56.6 L75 43" stroke="#f7f8fa" stroke-width="1.6" fill="none"/>
</g>
    </svg>
    <div class="t" style="left:1687px;top:876.2px;width:58px;text-align:center;font-size:7.4px;font-weight:400;color:#d6dbe5">请求量</div>
    <div class="t" style="left:1811px;top:866.6px;width:96px;text-align:center;font-size:12.4px;font-weight:400;color:#cad1dd">请求量</div>
    <div class="t" style="left:1668px;top:904px;font-size:19.5px;color:#3c4050">min: 209次</div>
    <div class="t" style="left:1799px;top:904px;font-size:19.5px;color:#3c4050">max: 1.94K次</div>
    <!-- apdex legend -->
    <div class="t" style="left:1259px;top:987px;font-size:22px;color:#3c4050;letter-spacing:-0.3px">APDEX状态：</div>
    <div class="abs dot" style="left:1398.7px;background:#63d6a0"></div><div class="t" style="left:1425px;top:987px;font-size:22px;color:#3c4050">正常</div>
    <div class="abs dot" style="left:1494.9px;background:#ffab40"></div><div class="t" style="left:1521px;top:987px;font-size:22px;color:#3c4050">缓慢</div>
    <div class="abs dot" style="left:1591px;background:#ff6553"></div><div class="t" style="left:1617px;top:987px;font-size:22px;color:#3c4050">异常</div>
    <div class="abs" style="left:1687.5px;top:981px;width:2px;height:32px;background:#d3d8e2"></div>
    <div class="abs dot" style="left:1713.7px;background:#186cff"></div><div class="t" style="left:1740px;top:987px;font-size:22px;color:#3c4050;letter-spacing:-0.2px">无APDEX</div>
    <div class="abs dot" style="left:1859.9px;background:#b2bbcb"></div><div class="t" style="left:1885px;top:987px;font-size:22px;color:#3c4050">无数据</div>
<!--L1-->
  </div>
  <!-- toolbar -->
  <div class="t" style="left:414px;top:451px;font-size:22px;color:#3c4050">布局方式</div>
  <div class="abs" style="left:515px;top:437px;width:169px;height:50px;border:1px solid #cbd1dd;border-radius:6px;background:#fff"></div>
  <div class="t" style="left:536px;top:451px;font-size:22px;color:#3c4050">左右分布</div>
  <svg class="abs" style="left:648px;top:454px" width="18" height="14" viewBox="0 0 18 14" fill="none" stroke="#7b879d" stroke-width="1.6" stroke-linecap="round" stroke-linejoin="round"><path d="M3 4 L9 10 L15 4"/></svg>
  <div class="abs" style="left:716px;top:449px;width:25px;height:26px;border-radius:5px;background:#186cff"></div>
  <svg class="abs" style="left:716px;top:449px" width="26" height="26" viewBox="0 0 26 26" fill="none" stroke="#fff" stroke-width="2.5" stroke-linecap="butt" stroke-linejoin="miter"><path d="M5.6 12.8 L10.4 17.2 L18.8 8.2"/></svg>
  <div class="t" style="left:754px;top:452px;font-size:22px;color:#1f2329;letter-spacing:0.4px">仅展示有请求调用的节点</div>
  <!-- toolbar icons -->
  <svg class="abs" style="left:2088px;top:446px" width="32" height="32" viewBox="0 0 32 32" fill="none" stroke="#6f83a5" stroke-width="2.6"><circle cx="14.5" cy="14.5" r="10.8"/><path d="M22.3 22.3 L28 28 M9.5 14.5 H19.5" stroke-linecap="butt"/></svg>
  <svg class="abs" style="left:2165px;top:446px" width="32" height="32" viewBox="0 0 32 32" fill="none" stroke="#6f83a5" stroke-width="2.6"><circle cx="14.5" cy="14.5" r="10.8"/><path d="M22.3 22.3 L28 28 M10 14.5 H19 M14.5 10 V19" stroke-linecap="butt"/></svg>
  <svg class="abs" style="left:2243px;top:447px" width="29" height="29" viewBox="0 0 29 29" fill="none" stroke="#6f83a5" stroke-width="2.8"><rect x="2.4" y="2.4" width="24.2" height="24.2" rx="1"/><path d="M8 12.5 V8 H12.5 M16.5 8 H21 V12.5 M21 16.5 V21 H16.5 M12.5 21 H8 V16.5" stroke-width="2.4"/></svg>
  <svg class="abs" style="left:2320px;top:448px" width="28" height="28" viewBox="0 0 28 28" fill="none" stroke="#6f83a5" stroke-width="2.8"><path d="M3 9.5 V3 H9.5 M18.5 3 H25 V9.5 M25 18.5 V25 H18.5 M9.5 25 H3 V18.5"/></svg>

</div>

<!--F0-->
<div class="abs" style="left:2279px;top:1362px;width:102px;height:102px;border-radius:50%;background:#fff;box-shadow:0 5px 18px rgba(30,40,70,.16)"></div>
<svg class="abs" style="left:2279px;top:1362px" width="102" height="102" viewBox="-51 -51 102 102">
  <g fill="#3a94ea">
    <ellipse cx="-27.6" cy="12.4" rx="4.8" ry="11.4"/><ellipse cx="27.6" cy="12.4" rx="4.8" ry="11.4"/>
  </g>
  <path d="M9 -18.8 C4 -17.6 -9 -15.5 -15.1 -10.6 C-21.6 -6 -26.6 -0.5 -27.3 8 C-28 15.5 -23.6 22.5 -16.7 26.3 C-11.5 29.3 -5 30.1 0.2 30.1 C5.5 30.1 12 29.3 17 26.3 C23.6 22.5 27.8 16 27.2 9 C26.4 1 21 -9 14.6 -19 C19 -19.6 24.6 -23 27.8 -30.2 C23 -31 15 -31 11 -26.6 C7 -31 -1 -31 -5.6 -30.2 C-3 -24 3 -20 9 -18.8 Z" fill="#3a94ea" stroke="#fff" stroke-width="0.9"/>
  <rect x="-20" y="-0.8" width="39.4" height="25.6" rx="12.6" fill="#fff"/>
  <circle cx="-10.3" cy="10.1" r="4.2" fill="#22508f"/><circle cx="8.8" cy="10.1" r="4.2" fill="#22508f"/>
  <circle cx="-8.5" cy="8.3" r="1.5" fill="#fff"/><circle cx="10.5" cy="8.3" r="1.5" fill="#fff"/>
  <ellipse cx="-14.4" cy="16.6" rx="2.4" ry="1.2" fill="#fbc6d0"/><ellipse cx="12.7" cy="16.6" rx="2.4" ry="1.2" fill="#fbc6d0"/>
  <path d="M-3.2 17.2 Q-0.8 18.8 1.6 17.2" fill="none" stroke="#f7a3ad" stroke-width="0.9" stroke-linecap="round"/>
</svg>
<!--F1-->
</div>
</body>
</html>
